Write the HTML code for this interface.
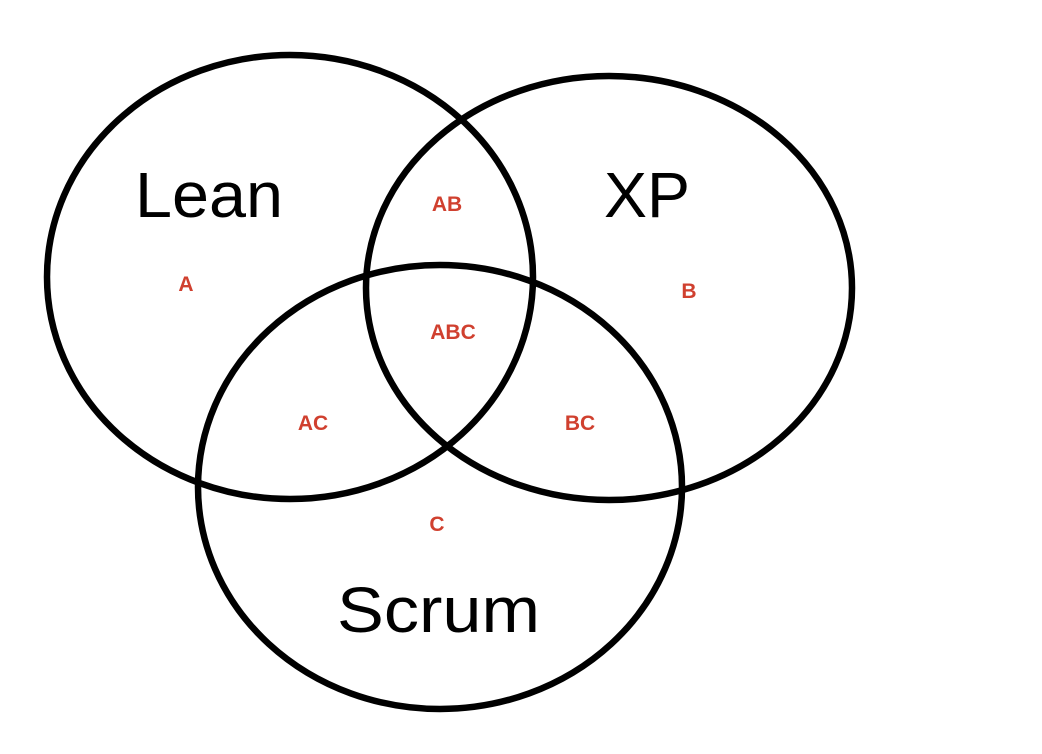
<!DOCTYPE html>
<html><head><meta charset="utf-8"><style>
html,body{margin:0;padding:0;background:#fff;}
svg{display:block}
</style></head><body>
<svg width="1042" height="754" viewBox="0 0 1042 754" xmlns="http://www.w3.org/2000/svg">
<rect width="1042" height="754" fill="#fff"/>
<g fill="none" stroke="#000" stroke-width="6.5">
<ellipse cx="290" cy="277" rx="243" ry="222"/>
<ellipse cx="609" cy="288" rx="243" ry="212"/>
<ellipse cx="440" cy="487" rx="242" ry="222"/>
</g>
<g font-family="Liberation Sans, sans-serif" fill="#000" font-size="64">
<text x="135" y="217" textLength="148" lengthAdjust="spacingAndGlyphs">Lean</text>
<text x="604" y="217" textLength="86" lengthAdjust="spacingAndGlyphs">XP</text>
<text x="337" y="632" textLength="203" lengthAdjust="spacingAndGlyphs">Scrum</text>
</g>
<g font-family="Liberation Sans, sans-serif" fill="#d0402f" font-size="21" font-weight="bold" text-anchor="middle">
<text x="186" y="291">A</text>
<text x="447" y="211">AB</text>
<text x="689" y="298">B</text>
<text x="453" y="339">ABC</text>
<text x="313" y="430">AC</text>
<text x="580" y="430">BC</text>
<text x="437" y="531">C</text>
</g>
</svg>
</body></html>
